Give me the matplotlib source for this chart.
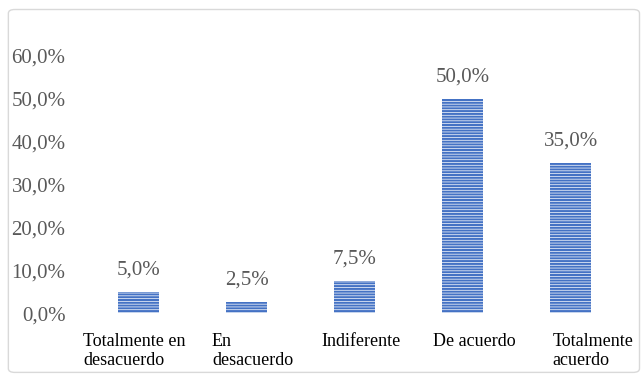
import matplotlib.pyplot as plt
import matplotlib.transforms as mtransforms
from matplotlib.patches import FancyBboxPatch

plt.rcParams['font.family'] = ['Liberation Serif', 'DejaVu Serif']
plt.rcParams['hatch.linewidth'] = 0.5

categories = ['Totalmente en\ndesacuerdo', 'En\ndesacuerdo', 'Indiferente',
              'De acuerdo', 'Totalmente\nacuerdo']
values = [0.05, 0.025, 0.075, 0.50, 0.35]
yticks = [0.0, 0.1, 0.2, 0.3, 0.4, 0.5, 0.6]

text_col = '#595959'
bar_col = '#4472C4'

fig = plt.figure(figsize=(6.44, 3.80), dpi=100)
ax = fig.add_axes([0.132, 0.176, 0.838, 0.677])

x = range(len(values))
ax.bar(x, values, width=0.38, color=bar_col, edgecolor='white',
       linewidth=0, hatch='------')

for xi, v in zip(x, values):
    ax.annotate(f'{v*100:.1f}%'.replace('.', ','), (xi, v),
                xytext=(0, 9), textcoords='offset points',
                ha='center', va='bottom', fontsize=15, color=text_col)

ax.set_xlim(-0.5, len(values) - 0.5)
ax.set_ylim(0, 0.6)
ax.set_yticks(yticks)
ax.set_yticklabels([f'{t*100:.1f}%'.replace('.', ',') for t in yticks],
                   fontsize=15, color=text_col)
ax.set_xticks(list(x))
ax.set_xticklabels(categories, fontsize=13, color='black',
                   multialignment='left')
ax.tick_params(axis='both', length=0)
ax.tick_params(axis='y', pad=14)
ax.tick_params(axis='x', pad=14)
for s in ax.spines.values():
    s.set_visible(False)

# Excel-style wrapped labels: left edge offsets (pixels) from bar centre
label_shift = [-56, -35, -33, -30, -18]
for lab, dx in zip(ax.get_xticklabels(), label_shift):
    lab.set_ha('left')
    lab.set_transform(lab.get_transform() +
                      mtransforms.ScaledTranslation(dx / 100, 0, fig.dpi_scale_trans))

frame = FancyBboxPatch((0.013, 0.02), 0.98, 0.955,
                       boxstyle='round,pad=0,rounding_size=0.01',
                       transform=fig.transFigure, facecolor='none',
                       edgecolor='#d9d9d9', linewidth=1)
fig.patches.append(frame)

fig.savefig('out.png', dpi=100)
